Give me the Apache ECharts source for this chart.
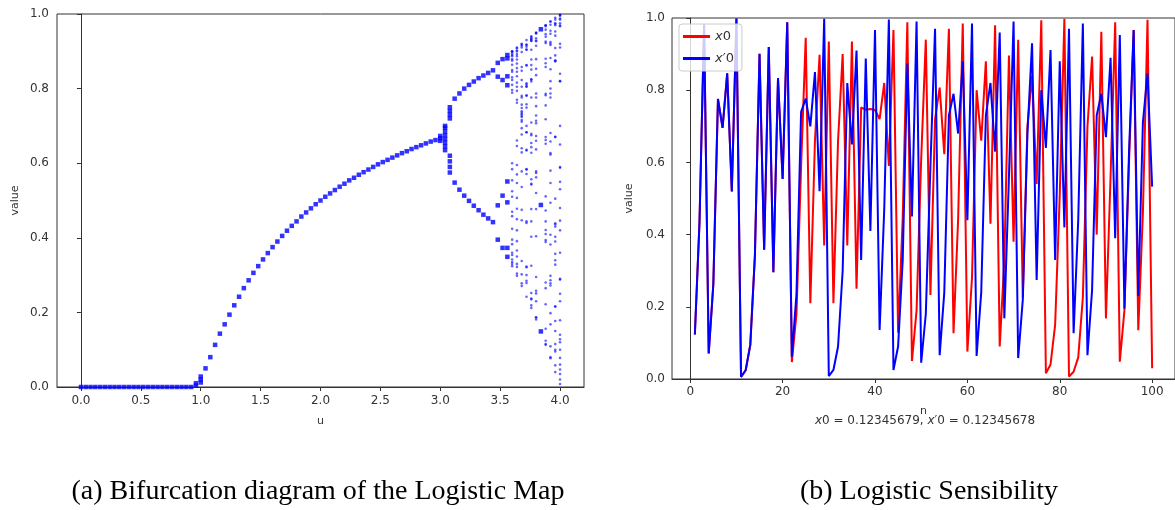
<!DOCTYPE html>
<html>
<head>
<meta charset="utf-8">
<script src="https://cdn.jsdelivr.net/npm/echarts@6/dist/echarts.min.js"></script>
<style>
  html, body { margin: 0; padding: 0; background: #fff; }
  #chart { width: 1175px; height: 510px; }
</style>
</head>
<body>
<div id="chart"></div>
<script>
// ---- (a) bifurcation diagram ----
// single fixed point per u (0 below u=1, then the 1-1/u branch)
const fixedU = [0, 0.04, 0.08, 0.12, 0.16, 0.2, 0.24, 0.28, 0.32, 0.36, 0.4, 0.44, 0.48, 0.52, 0.56, 0.6,
  0.64, 0.68, 0.72, 0.76, 0.8, 0.84, 0.88, 0.92,
  1.04, 1.08, 1.12, 1.16, 1.2, 1.24, 1.28, 1.32, 1.36, 1.4, 1.44, 1.48, 1.52, 1.56, 1.6, 1.64, 1.68, 1.72,
  1.76, 1.8, 1.84, 1.88, 1.92, 1.96, 2.0, 2.04, 2.08, 2.12, 2.16, 2.2, 2.24, 2.28, 2.32, 2.36, 2.4, 2.44,
  2.48, 2.52, 2.56, 2.6, 2.64, 2.68, 2.72, 2.76, 2.8, 2.84, 2.88, 2.92, 2.96, 3.0];
const fixedV = [0, 0, 0, 0, 0, 0, 0, 0, 0, 0, 0, 0, 0, 0, 0, 0,
  0, 0, 0, 0, 0, 0, 0, 0,
  0.05, 0.08, 0.113, 0.143, 0.168, 0.194, 0.219, 0.242, 0.265, 0.286, 0.306, 0.324, 0.342, 0.359, 0.375, 0.39, 0.405, 0.419,
  0.432, 0.444, 0.457, 0.468, 0.479, 0.49, 0.5, 0.51, 0.519, 0.528, 0.537, 0.545, 0.554, 0.561, 0.569, 0.576, 0.583, 0.59,
  0.597, 0.603, 0.609, 0.615, 0.621, 0.627, 0.632, 0.638, 0.643, 0.648, 0.653, 0.658, 0.662, 0.667];
// slow-converging columns next to the bifurcation points
const slowU = [0.96, 0.96, 1.0, 1.0, 1.0, 3.0, 3.0, 3.04, 3.04, 3.04, 3.04, 3.04, 3.04, 3.04, 3.04,
  3.08, 3.08, 3.08, 3.08, 3.08, 3.08, 3.08, 3.08];
const slowV = [0.004, 0.01, 0.012, 0.02, 0.028, 0.66, 0.673, 0.635, 0.645, 0.655, 0.665, 0.675, 0.685, 0.695, 0.70,
  0.72, 0.73, 0.74, 0.75, 0.575, 0.59, 0.605, 0.62];
// period-2 branches
const cycleU = [3.12, 3.16, 3.2, 3.24, 3.28, 3.32, 3.36, 3.4, 3.44];
const cycleHi = [0.773, 0.787, 0.80, 0.81, 0.819, 0.828, 0.835, 0.842, 0.849];
const cycleLo = [0.548, 0.529, 0.513, 0.499, 0.486, 0.474, 0.462, 0.452, 0.442];
// periodic windows (4, 4, 8, 3)
const periodicU = [3.48, 3.52, 3.56, 3.84];
const periodicV = [
  [0.395, 0.832, 0.487, 0.869],
  [0.373, 0.823, 0.513, 0.879],
  [0.349, 0.809, 0.551, 0.881, 0.373, 0.833, 0.495, 0.89],
  [0.149, 0.488, 0.959]
];
// chaotic columns
const chaosU = [3.6, 3.64, 3.68, 3.72, 3.76, 3.8, 3.88, 3.92, 3.96, 4.0];
const chaosV = [
  [0.9, 0.324, 0.789, 0.6, 0.864, 0.424, 0.879, 0.383, 0.85, 0.458, 0.894, 0.342, 0.81, 0.554, 0.89, 0.354, 0.823, 0.525, 0.898, 0.33, 0.796, 0.584, 0.875, 0.395,
   0.845, 0.47, 0.887, 0.36, 0.83, 0.51, 0.9, 0.335],
  [0.91, 0.298, 0.762, 0.661, 0.816, 0.547, 0.902, 0.322, 0.794, 0.595, 0.878, 0.391, 0.867, 0.42, 0.887, 0.366, 0.845, 0.478, 0.908, 0.304, 0.77, 0.646, 0.833, 0.507,
   0.855, 0.45, 0.9, 0.33, 0.805, 0.57, 0.893, 0.35],
  [0.92, 0.271, 0.727, 0.731, 0.724, 0.735, 0.716, 0.748, 0.694, 0.781, 0.629, 0.858, 0.447, 0.91, 0.302, 0.776, 0.64, 0.848, 0.475, 0.918, 0.278, 0.739, 0.711, 0.757,
   0.677, 0.805, 0.578, 0.898, 0.338, 0.823, 0.536, 0.915],
  [0.93, 0.242, 0.683, 0.806, 0.583, 0.905, 0.321, 0.811, 0.571, 0.912, 0.3, 0.781, 0.636, 0.862, 0.444, 0.918, 0.279, 0.749, 0.70, 0.782, 0.634, 0.863, 0.44, 0.917,
   0.285, 0.758, 0.683, 0.805, 0.584, 0.904, 0.323, 0.814],
  [0.94, 0.212, 0.628, 0.878, 0.403, 0.904, 0.325, 0.825, 0.543, 0.933, 0.235, 0.675, 0.824, 0.545, 0.933, 0.237, 0.679, 0.819, 0.557, 0.928, 0.252, 0.709, 0.776, 0.654,
   0.851, 0.477, 0.938, 0.219, 0.643, 0.863, 0.444, 0.928],
  [0.95, 0.181, 0.562, 0.935, 0.23, 0.673, 0.836, 0.52, 0.949, 0.186, 0.574, 0.929, 0.251, 0.714, 0.776, 0.66, 0.853, 0.477, 0.948, 0.187, 0.578, 0.927, 0.258, 0.728,
   0.753, 0.707, 0.787, 0.637, 0.879, 0.404, 0.915, 0.295],
  [0.97, 0.113, 0.389, 0.922, 0.28, 0.782, 0.662, 0.868, 0.444, 0.958, 0.156, 0.511, 0.97, 0.115, 0.394, 0.926, 0.265, 0.755, 0.718, 0.786, 0.652, 0.88, 0.41, 0.939,
   0.222, 0.67, 0.858, 0.473, 0.967, 0.124, 0.421, 0.946],
  [0.98, 0.077, 0.278, 0.787, 0.658, 0.882, 0.408, 0.947, 0.198, 0.623, 0.921, 0.286, 0.80, 0.627, 0.917, 0.298, 0.82, 0.58, 0.955, 0.168, 0.547, 0.971, 0.109, 0.382,
   0.925, 0.272, 0.776, 0.681, 0.852, 0.494, 0.98, 0.08],
  [0.99, 0.04, 0.15, 0.505, 0.985, 0.058, 0.216, 0.671, 0.874, 0.436, 0.974, 0.10, 0.357, 0.909, 0.328, 0.873, 0.439, 0.975, 0.095, 0.34, 0.889, 0.39, 0.942, 0.216,
   0.67, 0.876, 0.43, 0.97, 0.115, 0.403, 0.953, 0.177],
  [0.995, 0.02, 0.078, 0.288, 0.82, 0.59, 0.967, 0.128, 0.446, 0.988, 0.047, 0.179, 0.588, 0.969, 0.12, 0.42, 0.975, 0.1, 0.36, 0.92, 0.29, 0.82, 0.55, 0.985, 0.06, 0.23, 0.7, 0.84, 0.53, 0.997,
   0.035, 0.14, 0.48, 0.998, 0.008, 0.25, 0.65, 0.91]
];
const uTicks = [0, 0.5, 1, 1.5, 2, 2.5, 3, 3.5, 4];

// ---- (b) sensitivity, n = 1..100 ----
const nTicks = [0, 20, 40, 60, 80, 100];
const seqX0 = [0.1235, 0.4329, 0.982, 0.0708, 0.2632, 0.7758, 0.6958, 0.8466, 0.5195, 0.9985,
  0.0061, 0.0242, 0.0945, 0.3423, 0.9006, 0.3581, 0.9195, 0.2961, 0.8337, 0.5544,
  0.9881, 0.047, 0.18, 0.59, 0.945, 0.21, 0.66, 0.898, 0.37, 0.935,
  0.21, 0.66, 0.90, 0.37, 0.935, 0.25, 0.752, 0.746, 0.748, 0.745,
  0.72, 0.82, 0.59, 0.967, 0.128, 0.446, 0.988, 0.05, 0.19, 0.61,
  0.94, 0.233, 0.72, 0.807, 0.623, 0.97, 0.127, 0.443, 0.985, 0.076,
  0.28, 0.80, 0.66, 0.88, 0.43, 0.98, 0.09, 0.33, 0.896, 0.38,
  0.94, 0.226, 0.70, 0.84, 0.54, 0.994, 0.016, 0.04, 0.15, 0.51,
  0.998, 0.007, 0.02, 0.06, 0.226, 0.70, 0.893, 0.40, 0.962, 0.168,
  0.56, 0.988, 0.048, 0.19, 0.60, 0.967, 0.135, 0.46, 0.995, 0.03];
const seqX1 = [0.1235, 0.4329, 0.982, 0.0708, 0.2632, 0.7758, 0.6958, 0.8466, 0.5195, 0.9985,
  0.0061, 0.0242, 0.0945, 0.3423, 0.9006, 0.3581, 0.9195, 0.2961, 0.8337, 0.5544,
  0.9881, 0.062, 0.235, 0.74, 0.777, 0.70, 0.85, 0.52, 0.998, 0.008,
  0.025, 0.09, 0.30, 0.82, 0.65, 0.91, 0.33, 0.888, 0.41, 0.967,
  0.136, 0.47, 0.996, 0.025, 0.09, 0.33, 0.874, 0.45, 0.99, 0.045,
  0.18, 0.59, 0.97, 0.066, 0.24, 0.73, 0.79, 0.68, 0.88, 0.44,
  0.985, 0.064, 0.24, 0.73, 0.82, 0.63, 0.96, 0.168, 0.56, 0.99,
  0.058, 0.22, 0.68, 0.93, 0.274, 0.80, 0.64, 0.911, 0.33, 0.88,
  0.42, 0.97, 0.127, 0.44, 0.985, 0.066, 0.247, 0.73, 0.79, 0.67,
  0.89, 0.39, 0.953, 0.195, 0.63, 0.967, 0.23, 0.71, 0.847, 0.533];

// build point lists
let solidPts = [];
fixedU.forEach((u, i) => solidPts.push([u, fixedV[i]]));
slowU.forEach((u, i) => solidPts.push([u, slowV[i]]));
cycleU.forEach((u, i) => { solidPts.push([u, cycleHi[i]]); solidPts.push([u, cycleLo[i]]); });
periodicU.forEach((u, i) => periodicV[i].forEach(v => solidPts.push([u, v])));
let chaosPts = [];
chaosU.forEach((u, i) => chaosV[i].forEach(v => chaosPts.push([u, v])));
const lineA = seqX0.map((v, i) => [i + 1, v]);
const lineB = seqX1.map((v, i) => [i + 1, v]);

const FONT = 'DejaVu Sans';
const tickLabel = { color: '#333', fontFamily: FONT, fontSize: 12 };
const axisLn = { show: true, lineStyle: { color: '#333', width: 1 } };
const nameStyle = { color: '#333', fontFamily: FONT, fontSize: 11 };

let myChart = echarts.init(document.getElementById('chart'), null, { renderer: 'canvas' });
myChart.setOption({
  animation: false,
  backgroundColor: '#fff',
  grid: [
    { left: 57, top: 14, width: 527, height: 373, show: true, borderColor: '#333', borderWidth: 1 },
    { left: 672, top: 18, width: 507, height: 361, show: true, borderColor: '#333', borderWidth: 1 }
  ],
  xAxis: [
    {
      gridIndex: 0, type: 'value', min: -0.2, max: 4.2,
      name: 'u', nameLocation: 'middle', nameGap: 29, nameTextStyle: nameStyle,
      axisLine: axisLn, splitLine: { show: false },
      axisTick: { show: true, length: 4, customValues: uTicks, lineStyle: { color: '#333' } },
      axisLabel: Object.assign({ margin: 8, customValues: uTicks, formatter: v => v.toFixed(1) }, tickLabel)
    },
    {
      gridIndex: 1, type: 'value', min: -3.95, max: 104.95,
      name: 'n', nameLocation: 'middle', nameGap: 27, nameTextStyle: nameStyle,
      axisLine: axisLn, splitLine: { show: false },
      axisTick: { show: true, length: 4, customValues: nTicks, lineStyle: { color: '#333' } },
      axisLabel: Object.assign({ margin: 7, customValues: nTicks }, tickLabel)
    }
  ],
  yAxis: [
    {
      gridIndex: 0, type: 'value', min: 0, max: 1, interval: 0.2,
      name: 'value', nameLocation: 'middle', nameGap: 36, nameRotate: 90, nameTextStyle: nameStyle,
      axisLine: axisLn, splitLine: { show: false },
      axisTick: { show: true, length: 4, lineStyle: { color: '#333' } },
      axisLabel: Object.assign({ margin: 8, formatter: v => v.toFixed(1) }, tickLabel)
    },
    {
      gridIndex: 1, type: 'value', min: 0, max: 1, interval: 0.2,
      name: 'value', nameLocation: 'middle', nameGap: 37, nameRotate: 90, nameTextStyle: nameStyle,
      axisLine: axisLn, splitLine: { show: false },
      axisTick: { show: true, length: 4, lineStyle: { color: '#333' } },
      axisLabel: Object.assign({ margin: 7, formatter: v => v.toFixed(1) }, tickLabel)
    }
  ],
  legend: {
    data: ['x0', "x'0"],
    orient: 'vertical', left: 679, top: 24,
    itemWidth: 27, itemHeight: 3, itemGap: 9, icon: 'rect',
    padding: [6, 8, 6, 4],
    backgroundColor: 'rgba(255,255,255,0.8)', borderColor: '#ccc', borderWidth: 1, borderRadius: 3,
    formatter: name => name === 'x0' ? '{i|x}0' : '{i|x}\u20320',
    textStyle: { color: '#333', fontFamily: FONT, fontSize: 13, rich: { i: { fontStyle: 'italic', fontFamily: FONT, fontSize: 13, color: '#333' } } }
  },
  series: [
    {
      name: 'fixed', type: 'scatter', xAxisIndex: 0, yAxisIndex: 0,
      symbol: 'rect', symbolSize: 4.5, data: solidPts,
      itemStyle: { color: '#0000ff' }
    },
    {
      name: 'chaos', type: 'scatter', xAxisIndex: 0, yAxisIndex: 0,
      symbol: 'circle', symbolSize: 2.6, data: chaosPts,
      itemStyle: { color: '#0000ff', opacity: 0.6 }
    },
    {
      name: 'x0', type: 'line', xAxisIndex: 1, yAxisIndex: 1,
      data: lineA, symbol: 'none', color: '#ff0000',
      lineStyle: { color: '#ff0000', width: 2 }
    },
    {
      name: "x'0", type: 'line', xAxisIndex: 1, yAxisIndex: 1,
      data: lineB, symbol: 'none', color: '#0000ff',
      lineStyle: { color: '#0000ff', width: 2 }
    }
  ],
  graphic: [
    {
      type: 'text',
      style: {
        x: 925, y: 421, text: '{i|x}0 = 0.12345679, {i|x}\u20320 = 0.12345678',
        align: 'center', verticalAlign: 'middle',
        fill: '#333', font: '12px "DejaVu Sans"',
        rich: { i: { fontStyle: 'italic', fontSize: 12, fontFamily: FONT, fill: '#333' } }
      }
    },
    {
      type: 'text',
      style: {
        x: 318, y: 492, text: '(a) Bifurcation diagram of the Logistic Map',
        align: 'center', verticalAlign: 'middle',
        fill: '#000', font: '28px "Liberation Serif"'
      }
    },
    {
      type: 'text',
      style: {
        x: 929, y: 492, text: '(b) Logistic Sensibility',
        align: 'center', verticalAlign: 'middle',
        fill: '#000', font: '28px "Liberation Serif"'
      }
    }
  ]
});
</script>
</body>
</html>
